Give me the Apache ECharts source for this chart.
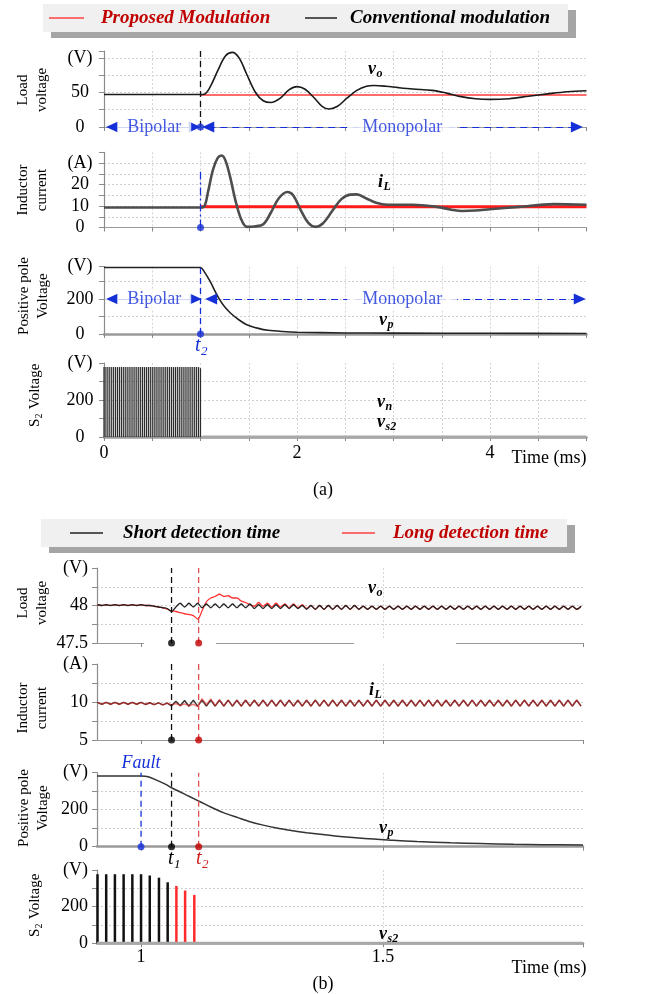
<!DOCTYPE html>
<html>
<head>
<meta charset="utf-8">
<title>Bipolar / monopolar transition</title>
<script src="https://cdn.jsdelivr.net/npm/echarts@6/dist/echarts.min.js"></script>
<style>
html, body { margin: 0; padding: 0; background: #fff; }
#box { width: 646px; height: 994px; }
</style>
</head>
<body>
<div id="box"></div>
<script>
// ---------- panel (a), time in ms ----------
const aVoConv = [[0,47],[1.0,47],[1.04,47.5],[1.1,58],[1.18,82],[1.26,103],[1.33,108],[1.4,100],[1.48,76],[1.57,50],[1.65,38],[1.73,35.5],[1.82,41],[1.92,54],[2.0,58.5],[2.08,55],[2.18,42],[2.26,30],[2.33,26],[2.42,30],[2.52,42],[2.62,53],[2.72,59],[2.8,60],[2.92,59],[3.05,57],[3.2,55],[3.4,53],[3.55,49],[3.7,44],[3.85,41],[4.0,40],[4.2,41],[4.4,44.5],[4.6,48],[4.8,51],[5.0,52.5]]
const aVoProp = [[1.0,46.3],[5.0,46.3]]
const aIlConv = [[0,9.3],[1.0,9.3],[1.04,9.8],[1.08,17],[1.13,27],[1.18,32.5],[1.22,33.5],[1.26,31],[1.31,23],[1.36,13],[1.42,4],[1.48,0.3],[1.56,0.5],[1.65,1.5],[1.73,7],[1.81,13.5],[1.9,16.5],[1.96,15],[2.04,8],[2.12,2],[2.19,0.3],[2.27,2],[2.37,8],[2.46,13.2],[2.55,15.3],[2.62,15.4],[2.72,13.5],[2.82,11.5],[2.94,10.6],[3.2,10.6],[3.45,9.6],[3.6,8.3],[3.71,7.7],[3.85,7.9],[4.0,8.5],[4.3,9.6],[4.66,10.9],[5.0,10.6]]
const aIlProp = [[1.0,9.7],[5.0,9.7]]
const aVp = [[0,380],[1.0,380],[1.04,355],[1.1,300],[1.15,245],[1.2,195],[1.25,155],[1.31,120],[1.4,80],[1.48,53],[1.6,32],[1.7,21],[1.85,14],[2.0,10],[2.5,6],[3.0,5],[4.0,4],[5.0,3]]
const aPulseT = [0.00,0.02,0.04,0.06,0.08,0.10,0.12,0.14,0.16,0.18,0.20,0.22,0.24,0.26,0.28,0.30,0.32,0.34,0.36,0.38,0.40,0.42,0.44,0.46,0.48,0.50,0.52,0.54,0.56,0.58,0.60,0.62,0.64,0.66,0.68,0.70,0.72,0.74,0.76,0.78,0.80,0.82,0.84,0.86,0.88,0.90,0.92,0.94,0.96,0.98,1.00]
const aPulseV = [378,378,378,378,378,378,378,378,378,378,
  378,378,378,378,378,378,378,378,378,378,
  378,378,378,378,378,378,378,378,378,378,
  378,378,378,378,378,378,378,378,378,378,
  378,378,378,378,378,378,378,378,378,378,372]
const aVs2 = [[1.02,0],[5.0,0]]
const aT2 = 1.0
const aXLabels = [0, 2, 4]

// ---------- panel (b) ----------
const bT = [0.910,0.919,0.928,0.937,0.946,0.955,0.964,0.973,0.982,0.991,
  1.000,1.009,1.018,1.027,1.036,1.045,1.054,1.063,1.072,1.081,
  1.090,1.099,1.108,1.117,1.126,1.135,1.144,1.153,1.162,1.171,
  1.180,1.189,1.198,1.207,1.216,1.225,1.234,1.243,1.252,1.261,
  1.270,1.279,1.288,1.297,1.306,1.315,1.324,1.333,1.342,1.351,
  1.360,1.369,1.378,1.387,1.396,1.405,1.414,1.423,1.432,1.441,
  1.450,1.459,1.468,1.477,1.486,1.495,1.504,1.513,1.522,1.531,
  1.540,1.549,1.558,1.567,1.576,1.585,1.594,1.603,1.612,1.621,
  1.630,1.639,1.648,1.657,1.666,1.675,1.684,1.693,1.702,1.711,
  1.720,1.729,1.738,1.747,1.756,1.765,1.774,1.783,1.792,1.801,
  1.810,1.819,1.828,1.837,1.846,1.855,1.864,1.873,1.882,1.891,
  1.900,1.909]
const b1Short = [48.01,48.00,48.01,48.00,48.01,48.00,48.01,48.00,48.01,48.00,
  48.01,48.00,48.00,47.99,47.98,47.97,47.96,47.92,47.98,48.03,
  47.98,48.03,47.98,48.03,47.97,48.02,47.97,48.02,47.97,48.02,
  47.97,48.02,47.97,48.02,47.97,48.02,47.96,48.01,47.96,48.01,
  47.96,48.01,47.96,48.01,47.96,48.01,47.96,48.00,47.95,48.00,
  47.95,48.00,47.95,48.00,47.95,48.00,47.95,48.00,47.95,48.00,
  47.95,47.99,47.95,47.99,47.95,47.99,47.95,47.99,47.95,47.99,
  47.95,47.99,47.95,47.99,47.95,47.99,47.95,47.99,47.95,47.99,
  47.95,47.99,47.95,47.99,47.95,47.99,47.95,47.99,47.95,47.99,
  47.95,47.99,47.95,47.99,47.95,47.99,47.95,47.99,47.95,47.99,
  47.95,47.99,47.95,47.99,47.95,47.99,47.95,47.99,47.95,47.99,
  47.95,47.99]
const b1Long = [48.01,48.00,48.01,48.00,48.01,48.00,48.01,48.00,48.01,48.00,
  48.01,48.00,48.00,47.99,47.98,47.97,47.95,47.93,47.92,47.905,
  47.89,47.88,47.865,47.82,47.93,48.05,48.10,48.12,48.15,48.12,
  48.13,48.10,48.10,48.06,48.04,48.01,47.99,48.04,47.99,48.03,
  47.98,48.03,47.98,48.02,47.97,48.02,47.97,48.01,47.96,48.00,
  47.95,48.00,47.95,48.00,47.95,48.00,47.95,48.00,47.95,48.00,
  47.95,47.99,47.95,47.99,47.95,47.99,47.95,47.99,47.95,47.99,
  47.95,47.99,47.95,47.99,47.95,47.99,47.95,47.99,47.95,47.99,
  47.95,47.99,47.95,47.99,47.95,47.99,47.95,47.99,47.95,47.99,
  47.95,47.99,47.95,47.99,47.95,47.99,47.95,47.99,47.95,47.99,
  47.95,47.99,47.95,47.99,47.95,47.99,47.95,47.99,47.95,47.99,
  47.95,47.99]
const b2Short = [9.95,9.70,9.95,9.70,9.95,9.70,9.95,9.70,9.95,9.70,
  9.95,9.68,9.90,9.65,9.88,9.62,9.85,9.50,10.10,9.50,
  10.20,9.45,10.25,9.45,10.25,9.45,10.25,9.45,10.25,9.45,
  10.25,9.45,10.25,9.45,10.25,9.45,10.25,9.45,10.25,9.45,
  10.25,9.45,10.25,9.45,10.25,9.45,10.25,9.45,10.25,9.45,
  10.25,9.45,10.25,9.45,10.25,9.45,10.25,9.45,10.25,9.45,
  10.25,9.45,10.25,9.45,10.25,9.45,10.25,9.45,10.25,9.45,
  10.25,9.45,10.25,9.45,10.25,9.45,10.25,9.45,10.25,9.45,
  10.25,9.45,10.25,9.45,10.25,9.45,10.25,9.45,10.25,9.45,
  10.25,9.45,10.25,9.45,10.25,9.45,10.25,9.45,10.25,9.45,
  10.25,9.45,10.25,9.45,10.25,9.45,10.25,9.45,10.25,9.45,
  10.25,9.45]
const b2Long = [9.95,9.70,9.95,9.70,9.95,9.70,9.95,9.70,9.95,9.70,
  9.95,9.68,9.90,9.65,9.88,9.62,9.85,9.60,9.80,9.55,
  9.75,9.50,9.70,9.40,10.45,9.60,10.40,9.50,10.30,9.45,
  10.25,9.45,10.25,9.45,10.25,9.45,10.25,9.45,10.25,9.45,
  10.25,9.45,10.25,9.45,10.25,9.45,10.25,9.45,10.25,9.45,
  10.25,9.45,10.25,9.45,10.25,9.45,10.25,9.45,10.25,9.45,
  10.25,9.45,10.25,9.45,10.25,9.45,10.25,9.45,10.25,9.45,
  10.25,9.45,10.25,9.45,10.25,9.45,10.25,9.45,10.25,9.45,
  10.25,9.45,10.25,9.45,10.25,9.45,10.25,9.45,10.25,9.45,
  10.25,9.45,10.25,9.45,10.25,9.45,10.25,9.45,10.25,9.45,
  10.25,9.45,10.25,9.45,10.25,9.45,10.25,9.45,10.25,9.45,
  10.25,9.45]
const bVp = [[0.909,382],[1.0,382],[1.015,378],[1.032,360],[1.05,338],[1.065,316],[1.08,297],[1.094,279],[1.108,261],[1.122,243],[1.145,213],[1.17,184],[1.2,157],[1.225,135],[1.25,118],[1.28,101],[1.31,88],[1.342,76],[1.38,64],[1.411,55],[1.462,44],[1.52,35],[1.57,28],[1.64,21],[1.7,17],[1.77,13],[1.83,11],[1.913,9]]
const bPulseShortT = [0.910,0.928,0.946,0.964,0.982,1.000,1.018,1.037,1.055]
const bPulseShortV = [377,377,377,377,377,377,370,358,333]
const bPulseLongT = [1.073,1.091,1.110]
const bPulseLongV = [313,288,264]
const bVs2 = [[0.909,0],[1.913,0]]
const bFault = 1.0, bT1 = 1.063, bT2 = 1.119
const bXLabels = [1, 1.5]

const SERIF = '"Liberation Serif", "Times New Roman", serif'
const BLUE = '#1530d8'
const near = (a, b) => Math.abs(a - b) < 1e-6

const zip = (ts, vs) => ts.map((t, i) => [t, vs[i]])

function xA(i, labels, w) {
    return {
        type: 'value', gridIndex: i, min: 0, max: 5, interval: 0.5,
        axisLine: { onZero: false, lineStyle: { color: '#9a9a9a', width: w } },
        axisTick: { length: 4, lineStyle: { color: '#888' } },
        splitLine: { show: true, showMinLine: false, showMaxLine: false, lineStyle: { color: '#d6d6d6', type: [2, 2] } },
        axisLabel: { show: labels, fontFamily: SERIF, fontSize: 18, color: '#000', margin: 7,
            formatter: v => aXLabels.some(s => near(s, v)) ? String(v) : '' }
    }
}

function xB(i, labels, w) {
    return {
        type: 'value', gridIndex: i, min: 0.909, max: 1.913,
        axisLine: { onZero: false, lineStyle: { color: '#9a9a9a', width: w } },
        axisTick: { length: 4, customValues: [1, 1.5, 1.913], lineStyle: { color: '#888' } },
        splitLine: { show: true, showMinLine: false, showMaxLine: false, lineStyle: { color: '#d6d6d6', type: [2, 2] } },
        axisLabel: { show: labels, customValues: bXLabels, fontFamily: SERIF, fontSize: 18, color: '#000', margin: 5 }
    }
}

function yAx(i, min, max, interval, shown, unitAt, unit, align, margin) {
    return {
        type: 'value', gridIndex: i, min, max, interval,
        axisLine: { show: true, lineStyle: { color: '#8c8c8c', width: 1.2 } },
        axisTick: { show: true, length: 5, lineStyle: { color: '#8c8c8c' } },
        splitLine: { show: true, showMinLine: false, showMaxLine: false, lineStyle: { color: '#cfcfcf', type: [2, 2] } },
        axisLabel: {
            showMinLabel: true, showMaxLabel: true, hideOverlap: false,
            fontFamily: SERIF, fontSize: 18, color: '#000', align, margin,
            formatter: v => near(v, unitAt) ? unit : (shown.some(s => near(s, v)) ? String(v) : '')
        }
    }
}

function line(i, data, color, width, extra) {
    return Object.assign({
        type: 'line', xAxisIndex: i, yAxisIndex: i, data, symbol: 'none', silent: true,
        lineStyle: { color, width }, z: 3
    }, extra || {})
}

function guide(i, t, y0, y1, color, dash) {
    return line(i, [[t, y0], [t, y1]], color, 1.3, { lineStyle: { color, width: 1.3, type: dash }, z: 4 })
}

function dot(i, t, y, color) {
    return { type: 'scatter', xAxisIndex: i, yAxisIndex: i, data: [[t, y]], symbolSize: 7, itemStyle: { color }, z: 6, silent: true }
}

function arrow(i, t0, t1, y, dashed) {
    return {
        type: 'line', xAxisIndex: i, yAxisIndex: i, data: [[t0, y]], symbol: 'none', silent: true, z: 4,
        markLine: {
            silent: true, symbol: ['triangle', 'triangle'], symbolSize: [11, 12],
            label: { show: false },
            lineStyle: { color: BLUE, width: 1.2, type: dashed ? [7, 5] : 'solid' },
            data: [[{ coord: [t0, y] }, { coord: [t1, y] }]]
        }
    }
}

function tag(i, t, y, text, pad) {
    return {
        type: 'scatter', xAxisIndex: i, yAxisIndex: i, data: [[t, y]], symbolSize: 1,
        itemStyle: { color: 'rgba(0,0,0,0)' }, z: 5, silent: true,
        label: { show: true, position: 'inside', formatter: text, fontFamily: SERIF, fontSize: 18,
            color: BLUE, backgroundColor: '#fff', padding: [1, pad] }
    }
}

function bars(i, data, w, color) {
    return { type: 'bar', xAxisIndex: i, yAxisIndex: i, data, barWidth: w, silent: true, z: 3, itemStyle: { color } }
}

/* main letter plus a lowered subscript, y is the centre line of the main letter */
function subText(x, y, main, sub, o) {
    const font = { fontFamily: SERIF, fontWeight: o.bold ? 'bold' : 'normal', fontStyle: 'italic', fill: o.color || '#000', align: 'left', verticalAlign: 'middle' }
    return [
        { type: 'text', x, y, z: 10, style: Object.assign({ text: main, fontSize: o.size }, font) },
        { type: 'text', x: x + o.dx, y: y + o.size * 0.3, z: 10, style: Object.assign({ text: sub, fontSize: Math.round(o.size * 0.66) }, font) }
    ]
}

function yName(x, y, text) {
    return {
        type: 'text', x, y, rotation: Math.PI / 2, z: 10,
        style: { text, fontFamily: SERIF, fontSize: 15, lineHeight: 19, fill: '#000', align: 'center', verticalAlign: 'middle' }
    }
}

/* rotated "S2 Voltage" with a real subscript */
function yNameSub(x, y) {
    const st = (text, size) => ({ text, fontFamily: SERIF, fontSize: size, fill: '#000', align: 'left', verticalAlign: 'middle' })
    return {
        type: 'group', x, y, rotation: Math.PI / 2, z: 10,
        children: [
            { type: 'text', x: -32, y: 0, style: st('S', 15) },
            { type: 'text', x: -23.5, y: 4, style: st('2', 10) },
            { type: 'text', x: -18, y: 0, style: st(' Voltage', 15) }
        ]
    }
}

function plain(x, y, text, o) {
    return {
        type: 'text', x, y, z: 10,
        style: { text, fontFamily: SERIF, fontSize: o.size || 18, fontWeight: o.bold ? 'bold' : 'normal',
            fontStyle: o.italic ? 'italic' : 'normal', fill: o.color || '#000', align: o.align || 'center', verticalAlign: 'middle' }
    }
}

function legendBox(x, y, w, h) {
    return [
        { type: 'rect', shape: { x: x + 8, y: y + 6, width: w, height: h }, style: { fill: '#a5a5a5' }, z: 8 },
        { type: 'rect', shape: { x, y, width: w, height: h }, style: { fill: '#f0f0f0' }, z: 9 }
    ]
}

function legendLine(x0, x1, y, color) {
    return { type: 'line', shape: { x1: x0, y1: y, x2: x1, y2: y }, style: { stroke: color, lineWidth: 1.5 }, z: 10 }
}

const grids = [
    { left: 104, top: 51, width: 482.5, height: 76 },
    { left: 104, top: 152.3, width: 482.5, height: 75.2 },
    { left: 104, top: 266.6, width: 482.5, height: 67.4 },
    { left: 104, top: 363, width: 482.5, height: 74 },
    { left: 97, top: 568, width: 486, height: 75 },
    { left: 97, top: 664, width: 486, height: 76 },
    { left: 97, top: 772.7, width: 486, height: 74 },
    { left: 97, top: 870, width: 486, height: 73.3 }
].map(g => Object.assign({ outerBoundsMode: 'none', containLabel: false }, g))

const series = [
    // (a) load voltage
    line(0, aVoProp, '#ff3b3b', 1.4),
    line(0, aVoConv, '#1a1a1a', 1.6, { smooth: 0.35 }),
    guide(0, aT2, 0, 110, '#111', [6, 4]),
    arrow(0, 0.083, 0.94, 0, false),
    arrow(0, 1.08, 4.9, 0, true),
    tag(0, 0.52, 0, 'Bipolar', 10),
    tag(0, 3.09, 0, 'Monopolar', 15),
    dot(0, aT2, 0, BLUE),
    // (a) inductor current
    line(1, aIlProp, '#ff1a1a', 3),
    line(1, aIlConv, '#4d4d4d', 2.6, { smooth: 0.35 }),
    guide(1, aT2, 0, 26, BLUE, [8, 3, 2, 3]),
    dot(1, aT2, 0, BLUE),
    // (a) positive pole voltage
    line(2, aVp, '#222', 1.6, { smooth: 0.3 }),
    guide(2, aT2, 0, 385, BLUE, [6, 4]),
    arrow(2, 0.083, 0.95, 200, false),
    arrow(2, 1.11, 4.93, 200, true),
    tag(2, 0.52, 200, 'Bipolar', 10),
    tag(2, 3.09, 200, 'Monopolar', 15),
    dot(2, aT2, 0, BLUE),
    // (a) S2 voltage
    line(3, aVs2, '#a8a8a8', 3),
    bars(3, zip(aPulseT, aPulseV), 1.2, '#2a2a2a'),
    // (b) load voltage
    line(4, zip(bT, b1Long), '#ff3030', 1.3, { smooth: 0.3 }),
    line(4, zip(bT, b1Short), '#222', 1.3, { smooth: 0.3 }),
    guide(4, bT1, 47.5, 48.5, '#111', [6, 4]),
    guide(4, bT2, 47.5, 48.5, '#e05050', [6, 4]),
    dot(4, bT1, 47.5, '#000'),
    dot(4, bT2, 47.5, '#c00000'),
    // (b) inductor current
    line(5, zip(bT, b2Short), '#3a3a3a', 1.5),
    line(5, zip(bT, b2Long), '#e02020', 1.5, { lineStyle: { color: '#e02020', width: 1.5, opacity: 0.6 } }),
    guide(5, bT1, 5, 15, '#111', [6, 4]),
    guide(5, bT2, 5, 15, '#e05050', [6, 4]),
    dot(5, bT1, 5, '#000'),
    dot(5, bT2, 5, '#c00000'),
    // (b) positive pole voltage
    line(6, bVp, '#333', 1.5, { smooth: 0.3 }),
    guide(6, bFault, 0, 400, BLUE, [6, 4]),
    guide(6, bT1, 0, 400, '#111', [6, 4]),
    guide(6, bT2, 0, 400, '#e05050', [6, 4]),
    dot(6, bFault, 0, BLUE),
    dot(6, bT1, 0, '#000'),
    dot(6, bT2, 0, '#c00000'),
    // (b) S2 voltage
    line(7, bVs2, '#a8a8a8', 3),
    bars(7, bPulseShortT.map((t, i) => ({ value: [t, bPulseShortV[i]], itemStyle: { color: '#111' } }))
        .concat(bPulseLongT.map((t, i) => ({ value: [t, bPulseLongV[i]], itemStyle: { color: '#ff2a2a' } }))), 2.5, '#111')
]

const VAR = { size: 18, bold: true, dx: 8.5 }
const VARI = { size: 18, bold: true, dx: 5.5 }

const graphic = [].concat(
    legendBox(43, 4, 525, 28),
    legendLine(49, 84, 18, '#ff4040'),
    plain(101, 18, 'Proposed Modulation', { size: 19, bold: true, italic: true, color: '#c00000', align: 'left' }),
    legendLine(305, 337, 18, '#222'),
    plain(350, 18, 'Conventional modulation', { size: 19, bold: true, italic: true, align: 'left' }),
    legendBox(41, 519, 526, 28),
    legendLine(70, 103, 533, '#222'),
    plain(123, 533, 'Short detection time', { size: 19, bold: true, italic: true, align: 'left' }),
    legendLine(342, 375, 533, '#ff4040'),
    plain(393, 533, 'Long detection time', { size: 19, bold: true, italic: true, color: '#c00000', align: 'left' }),

    yName(33, 90, 'Load\nvoltage'),
    yName(33, 190, 'Inductor\ncurrent'),
    yName(34, 296, 'Positive pole\nVoltage'),
    yNameSub(35, 395),
    yName(33, 603, 'Load\nvoltage'),
    yName(33, 708, 'Inductor\ncurrent'),
    yName(34, 808, 'Positive pole\nVoltage'),
    yNameSub(35, 905),

    subText(368, 69, 'v', 'o', VAR),
    subText(378, 182, 'i', 'L', VARI),
    subText(379, 320, 'v', 'p', VAR),
    subText(377, 402, 'v', 'n', VAR),
    subText(377, 422, 'v', 's2', VAR),
    subText(368, 588, 'v', 'o', VAR),
    subText(369, 690, 'i', 'L', VARI),
    subText(379, 828, 'v', 'p', VAR),
    subText(379, 934, 'v', 's2', VAR),

    subText(195, 346, 't', '2', { size: 20, color: BLUE, dx: 6 }),
    subText(168, 859, 't', '1', { size: 20, dx: 6 }),
    subText(196, 859, 't', '2', { size: 20, color: '#d02020', dx: 6 }),
    plain(141, 763, 'Fault', { size: 18, italic: true, color: BLUE }),

    plain(549, 458, 'Time (ms)', { size: 18 }),
    plain(549, 968, 'Time (ms)', { size: 18 }),
    plain(323, 490, '(a)', { size: 18 }),
    plain(323, 984, '(b)', { size: 18 }),

    [{ type: 'rect', shape: { x: 144, y: 640, width: 72, height: 7 }, style: { fill: '#fff' }, z: 1 },
     { type: 'rect', shape: { x: 354, y: 640, width: 102, height: 7 }, style: { fill: '#fff' }, z: 1 }]
)

const chart = echarts.init(document.getElementById('box'), null, { renderer: 'canvas' })

chart.setOption({
    animation: false,
    backgroundColor: '#fff',
    textStyle: { fontFamily: SERIF },
    grid: grids,
    xAxis: [xA(0, false, 1.2), xA(1, false, 1.2), xA(2, false, 2.5), xA(3, true, 2.5),
            xB(4, false, 1.2), xB(5, false, 1.2), xB(6, false, 2.5), xB(7, true, 2.5)],
    yAxis: [
        yAx(0, 0, 110, 25, [0, 50], 100, '(V)', 'center', 24),
        yAx(1, 0, 35, 5, [0, 10, 20], 30, '(A)', 'center', 24),
        yAx(2, 0, 385, 100, [0, 200], 385, '(V)', 'center', 24),
        yAx(3, 0, 400, 100, [0, 200], 400, '(V)', 'center', 24),
        yAx(4, 47.5, 48.5, 0.25, [47.5, 48], 48.5, '(V)', 'right', 9),
        yAx(5, 5, 15, 2.5, [5, 10], 15, '(A)', 'right', 9),
        yAx(6, 0, 400, 100, [0, 200], 400, '(V)', 'right', 9),
        yAx(7, 0, 400, 100, [0, 200], 400, '(V)', 'right', 9)
    ],
    series,
    graphic: { elements: graphic }
})
</script>
</body>
</html>
